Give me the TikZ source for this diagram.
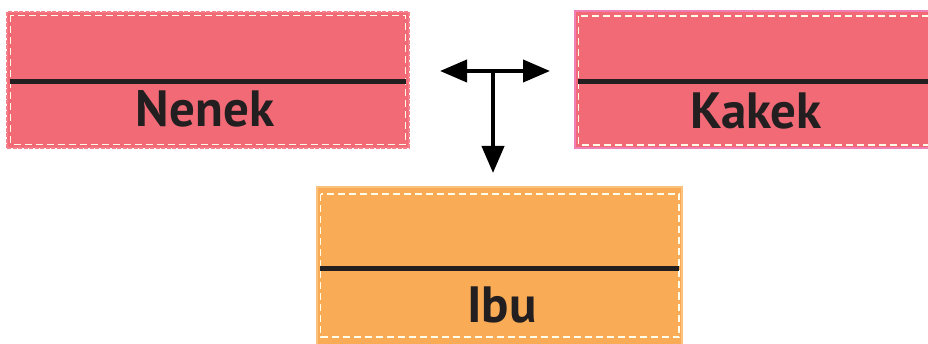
\documentclass[tikz,border=0pt]{standalone}
\usepackage{fontspec}
\setmainfont{PT Sans}
\usetikzlibrary{arrows.meta}
\definecolor{redfill}{HTML}{F26A76}
\definecolor{rededge}{HTML}{F47F8A}
\definecolor{pinkedge}{HTML}{F07DB3}
\definecolor{orangefill}{HTML}{F9AB55}
\definecolor{orangeedge}{HTML}{FBC27E}
\definecolor{ink}{HTML}{231F20}
\tikzset{
  x=1pt, y=-1pt,
  box/.style={anchor=north west, inner sep=0pt, outer sep=0pt},
  innerdash/.style={draw=white!92!yellow, line width=1.8pt, dash pattern=on 7pt off 4pt},
  divider/.style={draw=ink, line width=5pt},
  label/.style={font=\bfseries\fontsize{51}{51}\selectfont, text=ink, inner sep=0pt, anchor=base},
  conn/.style={draw=black, line width=4pt, -{Triangle[length=27pt,width=22pt]}},
}
\begin{document}
\begin{tikzpicture}
\useasboundingbox (0,0) rectangle (928,344);
% Nenek box
\node[box, fill=redfill, draw=rededge, line width=2.5pt, dash pattern=on 4pt off 1.5pt,
      minimum width=402pt, minimum height=136pt] (nenek) at (7,12) {};
\draw[innerdash] (10.5,15.5) rectangle (405.5,144.5);
\coordinate (nl) at (10,82);
\coordinate (nr) at (406,82);
\draw[divider] (nl) -- (nr);
\node[label] (nenektext) at (205,127) {Nenek};
% Kakek box
\node[box, fill=redfill, draw=pinkedge, line width=2.5pt,
      minimum width=380pt, minimum height=137pt] (kakek) at (575,11) {};
\draw[innerdash] (578.5,16) rectangle (960,145);
\coordinate (kl) at (578,82);
\coordinate (kr) at (960,82);
\draw[divider] (kl) -- (kr);
\node[label] (kakektext) at (756,129) {Kakek};
% Ibu box
\node[box, fill=orangefill, draw=orangeedge, line width=2pt,
      minimum width=365pt, minimum height=180pt] (ibu) at (317,187) {};
\draw[innerdash] (320.5,194) rectangle (679,337);
\coordinate (il) at (320,269);
\coordinate (ir) at (679,269);
\draw[divider] (il) -- (ir);
\node[label] (ibutext) at (502,322) {Ibu};
% arrows
\coordinate (aleft) at (440,71);
\coordinate (aright) at (550,71);
\coordinate (amid) at (493,71);
\coordinate (adown) at (493,173);
\draw[conn, {Triangle[length=27pt,width=22pt]}-{Triangle[length=27pt,width=22pt]}] (aleft) -- (aright);
\draw[conn] (amid) -- (adown);
\end{tikzpicture}
\end{document}
